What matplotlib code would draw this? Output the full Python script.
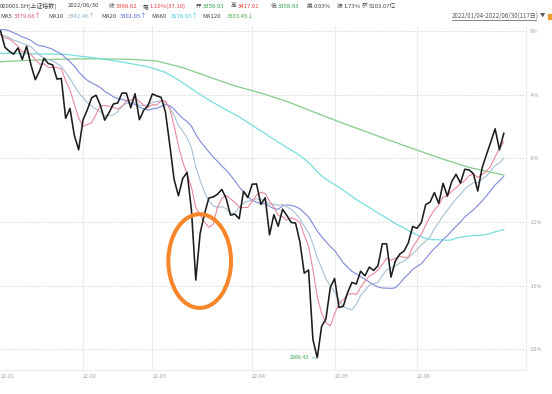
import numpy as np
import matplotlib
matplotlib.use('Agg')
import matplotlib.pyplot as plt
from matplotlib.patches import Ellipse, Rectangle
from matplotlib.lines import Line2D

plt.rcParams['font.family'] = ['Noto Sans CJK SC', 'DejaVu Sans']

# ---------------- data ----------------
# Shanghai Composite closes, Dec 7 - Dec 31 2021 (needed for the short moving averages)
prior_closes = [3595.09, 3637.57, 3673.04, 3666.35, 3681.08, 3661.53, 3647.63, 3675.02, 3632.36,
                3593.60, 3625.13, 3622.62, 3643.34, 3618.05, 3615.97, 3630.11, 3597.00, 3619.19, 3639.78]

# Daily closes 2022/01/04 - 2022/06/30 (117 trading days)
closes_jan = [3632.33, 3595.18, 3586.08, 3579.54, 3593.52, 3567.44, 3597.43, 3555.26, 3521.26, 3541.67,
              3569.91, 3558.18, 3555.06, 3522.57, 3524.11, 3433.06, 3455.67, 3394.25, 3361.44]
closes_feb = [3429.58, 3452.63, 3479.95, 3485.91, 3462.95, 3428.88, 3446.09, 3465.83, 3468.04, 3490.76,
              3490.61, 3457.15, 3489.15, 3429.96, 3451.41, 3462.31]
closes_mar = [3488.83, 3484.19, 3481.11, 3447.65, 3372.86, 3293.53, 3256.39, 3296.09, 3309.75, 3223.53,
              3063.97, 3170.71, 3215.04, 3251.07, 3253.69, 3259.86, 3271.03, 3250.26, 3212.24, 3214.50,
              3203.94, 3266.60, 3252.20]
closes_apr = [3282.72, 3283.43, 3236.70, 3251.85, 3167.13, 3213.33, 3186.82, 3225.64, 3211.24, 3195.52,
              3194.03, 3151.05, 3079.81, 3086.92, 2928.51, 2886.43, 2958.28, 2975.48, 3047.06]
closes_may = [3067.76, 3001.56, 3004.14, 3035.84, 3058.70, 3054.99, 3084.28, 3073.75, 3093.70, 3085.98,
              3096.96, 3146.86, 3146.57, 3070.93, 3107.46, 3123.11, 3130.24, 3149.06, 3186.43]
closes_jun = [3182.16, 3195.46, 3236.37, 3241.76, 3263.79, 3238.95, 3284.83, 3255.55, 3288.91, 3305.41,
              3285.38, 3316.79, 3315.43, 3306.72, 3267.20, 3320.15, 3349.75, 3379.19, 3409.21, 3361.52,
              3398.62]

# MA60 before enough history is available in the window (% vs first close)
ma60_early_idx = [0, 8, 15, 22, 28, 34, 38, 41, 45, 48, 52, 55]
ma60_early_pct = [-1.40, -1.43, -1.47, -1.70, -1.95, -2.25, -2.60, -3.08, -3.80, -4.34, -4.95, -5.39]

# MA120 (% vs first close)
ma120_idx = [0, 6, 12, 18, 24, 30, 36, 42, 48, 54, 60, 66, 72, 78, 84, 90, 96, 102, 108, 116]
ma120_pct = [-1.93, -1.85, -1.78, -1.75, -1.75, -1.78, -1.88, -2.30, -2.88, -3.45, -3.90, -4.42,
             -5.07, -5.70, -6.30, -6.90, -7.48, -8.05, -8.57, -9.05]

month_ticks = [0, 19, 35, 58, 77, 96]
month_labels = ['22-01', '22-02', '22-03', '22-04', '22-05', '22-06']
y_ticks = [0, -4, -8, -12, -16, -20]
y_labels = ['0%', '-4%', '-8%', '-12%', '-16%', '-20%']

low_label = '2886.43'

# ---------------- derived ----------------
closes = np.array(closes_jan + closes_feb + closes_mar + closes_apr + closes_may + closes_jun)
n = len(closes)
base = closes[0]
full = np.concatenate([np.array(prior_closes), closes])
npre = len(prior_closes)


def ma(k):
    return np.array([full[i + npre - k + 1:i + npre + 1].mean() for i in range(n)])


def pct(v):
    return (np.asarray(v) / base - 1.0) * 100.0


x = np.arange(n)
c_pct = pct(closes)
ma5 = pct(ma(5))
ma10 = pct(ma(10))
ma20 = pct(ma(20))
ma60_idx_late = list(range(59, n))
ma60_late = pct([closes[i - 59:i + 1].mean() for i in ma60_idx_late])
ma60_x = np.array(ma60_early_idx + ma60_idx_late)
ma60_y = np.concatenate([np.array(ma60_early_pct), ma60_late])

# ---------------- figure ----------------
W, H = 552, 394
fig = plt.figure(figsize=(W / 100, H / 100), dpi=100)
fig.patch.set_facecolor('white')
ax_l, ax_r, ax_t, ax_b = 0, 526, 26, 370
ax = fig.add_axes([ax_l / W, 1 - ax_b / H, (ax_r - ax_l) / W, (ax_b - ax_t) / H])

# pixel mapping: x_px = 0.58 + 4.338*i ; y_px = 31 - 15.92*pct
ax.set_xlim((ax_l - 0.58) / 4.338, (ax_r - 0.58) / 4.338)
ax.set_ylim(-(ax_b - 31) / 15.92, -(ax_t - 31) / 15.92)

# grids
for m in month_ticks[1:]:
    ax.axvline(m, color='#ececec', lw=0.8, zorder=0)
for yt in y_ticks:
    ax.axhline(yt, color='#d8d8d8', lw=0.7, ls=(0, (1.5, 1.5)), zorder=0)

for s in ['top', 'left']:
    ax.spines[s].set_visible(False)
ax.spines['right'].set_color('#ececec')
ax.spines['bottom'].set_color('#ececec')
ax.spines['right'].set_linewidth(0.8)
ax.spines['bottom'].set_linewidth(0.8)

# lines
ax.plot(ma120_idx, ma120_pct, color='#86cc88', lw=0.9, zorder=2)
ax.plot(ma60_x, ma60_y, color='#77dede', lw=0.9, zorder=2)
ax.plot(x, ma20, color='#7f88dc', lw=0.8, zorder=3)
ax.plot(x, ma10, color='#a6c0d4', lw=0.8, zorder=3)
ax.plot(x, ma5, color='#e8889c', lw=0.8, zorder=4)
ax.plot(x, c_pct, color='#1c1c1c', lw=1.15, zorder=5)

# low annotation
imin = int(np.argmin(closes))
ax.annotate(low_label, xy=(imin, c_pct[imin]), xytext=(-8, 0), textcoords='offset pixels',
            ha='right', va='center', fontsize=3.8, color='#3aa757',
            arrowprops=dict(arrowstyle='-', color='#7fd0c8', lw=0.7, shrinkA=0, shrinkB=0),
            zorder=6)

# orange ellipse highlight
ell = Ellipse((45.9, -14.45), width=14.45, height=5.89, fill=False,
              edgecolor='#f7862a', lw=2.9, zorder=7)
ax.add_patch(ell)

# ticks
ax.set_xticks(month_ticks)
ax.set_xticklabels(month_labels, fontsize=3.9, color='#a0a0a0')
for lab in ax.get_xticklabels():
    lab.set_ha('left')
ax.tick_params(axis='x', length=0, pad=3)
ax.yaxis.tick_right()
ax.set_yticks(y_ticks)
ax.set_yticklabels(y_labels, fontsize=3.7, color='#a0a0a0')
ax.tick_params(axis='y', length=0, pad=3)

# ---------------- header ----------------
FS = 4.3
FSC = 4.0


def ftext(xp, yp, s, color, fs=FS, **kw):
    fig.text(xp / W, 1 - yp / H, s, color=color, fontsize=fs, ha='left', va='center', **kw)


RED = '#e8403f'
GRN = '#2ea34a'
DK = '#444444'
y1, y2 = 6, 16
ftext(0, y1, '000001.SH[上证指数]', DK)
ftext(68, y1, '2022/06/30', DK)
items1 = [(109, '收', '3398.62', RED), (143, '幅', '1.10%(37.10)', RED),
          (196, '开', '3358.93', GRN), (231, '高', '3417.01', RED),
          (271, '低', '3358.93', GRN), (307, '换', '0.93%', DK),
          (337, '振', '1.73%', DK), (362, '额', '5103.07亿', DK)]
for xp, lab, val, col in items1:
    ftext(xp, y1, lab, DK, fs=FSC)
    ftext(xp + 6.5, y1, val, col)

items2 = [(0, 'MA5', 14, '3379.66↑', '#e2506e'), (48, 'MA10', 68, '3342.46↑', '#86aac8'),
          (101, 'MA20', 120, '3301.05↑', '#4a5fd4'), (151, 'MA60', 171, '3178.93↑', '#33c8dc'),
          (202, 'MA120', 227, '3303.45↓', '#43a84a')]
for xl, lab, xv, val, col in items2:
    ftext(xl, y2, lab, DK)
    ftext(xv, y2, val, col)

ftext(452, y2, '2022/01/04-2022/06/30(117日)', '#555555', fs=4.4)
fig.add_artist(Line2D([452 / W, 536 / W], [1 - 20 / H, 1 - 20 / H], color='#555555', lw=0.5))
ftext(539.5, y2, '▼', '#555555', fs=3.8)
fig.add_artist(Rectangle((548 / W, 1 - 18.5 / H), 4 / W, 4 / H, color='#f0a030'))

fig.savefig('out.png', dpi=100, facecolor='white')
